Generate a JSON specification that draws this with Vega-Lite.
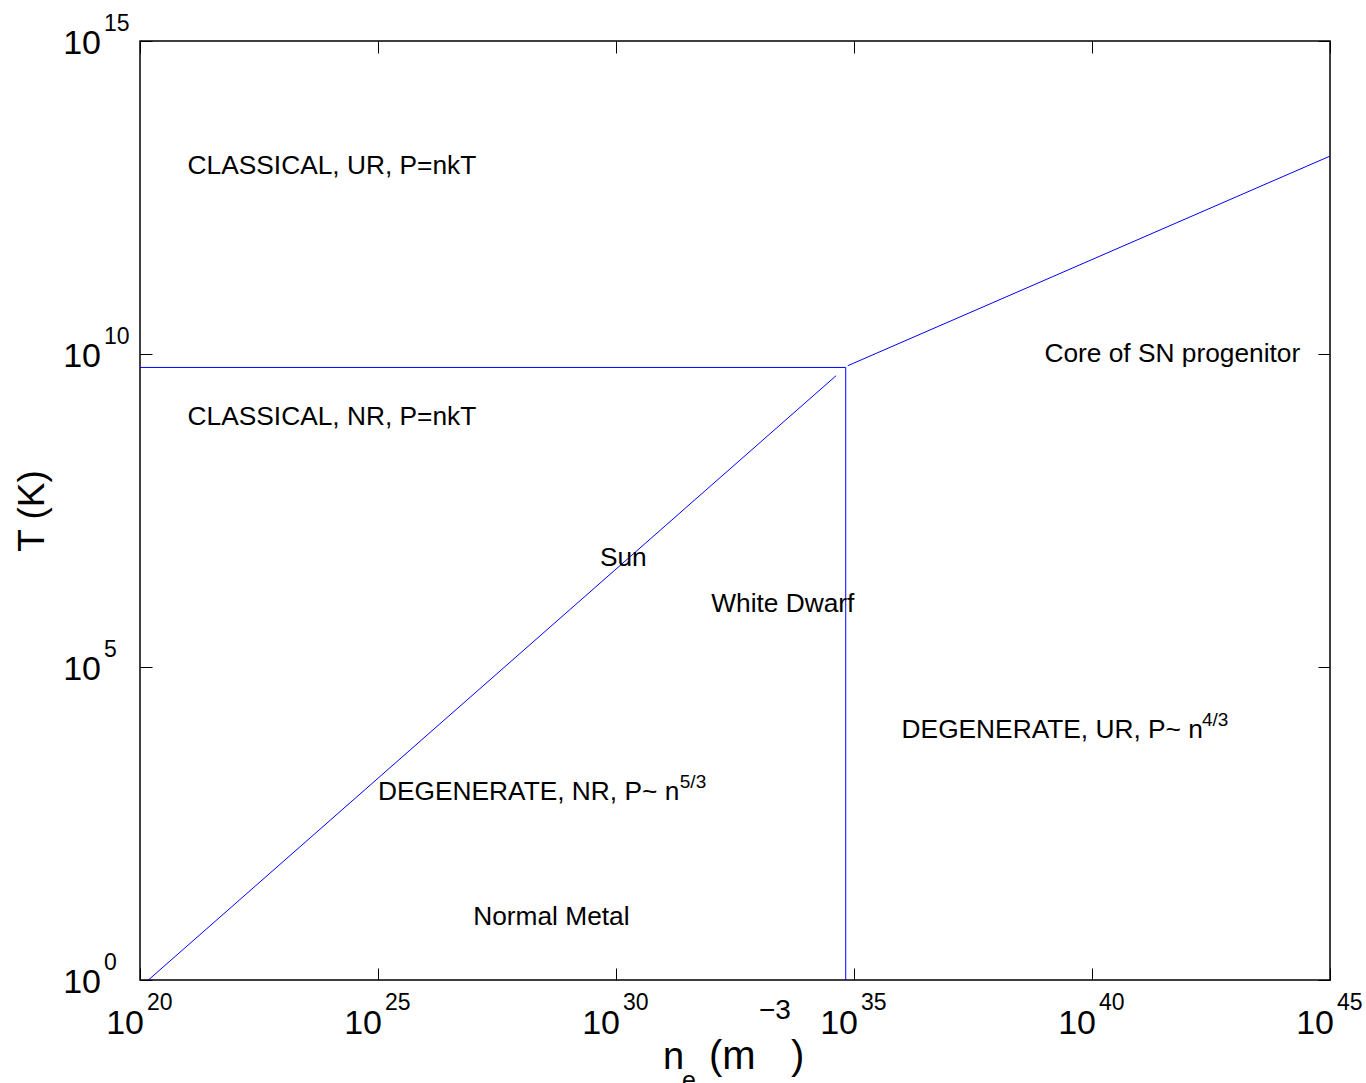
{
  "$schema": "https://vega.github.io/schema/vega-lite/v6.json",
  "width": 1190,
  "height": 939,
  "autosize": {"type": "none"},
  "padding": {"left": 140, "top": 41, "right": 36, "bottom": 103},
  "background": "white",
  "config": {
    "font": "Liberation Sans",
    "view": {"stroke": "black", "strokeWidth": 1.5},
    "text": {"font": "Liberation Sans", "color": "black"},
    "axis": {"labels": false, "grid": false, "domain": false, "ticks": true, "tickSize": -12, "tickColor": "black", "tickWidth": 1}
  },
  "datasets": {
    "lines": [
      {"seg": "NR/UR boundary", "n": 1e20, "T": 6.1e9, "i": 0},
      {"seg": "NR/UR boundary", "n": 6.7e34, "T": 6.1e9, "i": 1},
      {"seg": "NR/UR boundary", "n": 6.7e34, "T": 1, "i": 2},
      {"seg": "classical/degenerate NR", "n": 1.5e20, "T": 1, "i": 0},
      {"seg": "classical/degenerate NR", "n": 4.2e34, "T": 4.5e9, "i": 1}
    ],
    "urline": [
      {"seg": "classical/degenerate UR", "n": 7.4e34, "T": 6.5e9, "i": 0},
      {"seg": "classical/degenerate UR", "n": 1e45, "T": 1.45e13, "i": 1}
    ],
    "labels": [
      {"n": 1e21, "T": 1e13, "label": "CLASSICAL, UR, P=nkT"},
      {"n": 1e21, "T": 1e9, "label": "CLASSICAL, NR, P=nkT"},
      {"n": 1e39, "T": 1e10, "label": "Core of SN progenitor"},
      {"n": 4.6e29, "T": 5.6e6, "label": "Sun"},
      {"n": 1e32, "T": 1e6, "label": "White Dwarf"},
      {"n": 1e36, "T": 1e4, "label": "DEGENERATE, UR, P~ n"},
      {"n": 1e25, "T": 1e3, "label": "DEGENERATE, NR, P~ n"},
      {"n": 1e27, "T": 10, "label": "Normal Metal"}
    ],
    "sups": [
      {"n": 2.19e31, "T": 1e3, "sup": "5/3"},
      {"n": 2.04e42, "T": 1e4, "sup": "4/3"}
    ],
    "xticks": [
      {"n": 1e20, "e": "20"},
      {"n": 1e25, "e": "25"},
      {"n": 1e30, "e": "30"},
      {"n": 1e35, "e": "35"},
      {"n": 1e40, "e": "40"},
      {"n": 1e45, "e": "45"}
    ],
    "yticks": [
      {"T": 1, "e": "0"},
      {"T": 1e5, "e": "5"},
      {"T": 1e10, "e": "10"},
      {"T": 1e15, "e": "15"}
    ]
  },
  "layer": [
    {
      "data": {"name": "lines"},
      "mark": {"type": "line", "color": "#0000ff", "strokeWidth": 1},
      "encoding": {
        "x": {"field": "n", "type": "quantitative", "scale": {"type": "log", "domain": [1e20, 1e45], "nice": false},
              "axis": {"orient": "bottom", "values": [1e20, 1e25, 1e30, 1e35, 1e40, 1e45], "title": null}},
        "y": {"field": "T", "type": "quantitative", "scale": {"type": "log", "domain": [1, 1e15], "nice": false},
              "axis": {"orient": "left", "values": [1, 1e5, 1e10, 1e15], "title": "T (K)", "titleFont": "Liberation Sans", "titleFontSize": 37, "titleFontWeight": "normal", "titleColor": "black", "titleX": -97, "titleY": 469.5, "titleAngle": -90, "titleBaseline": "alphabetic", "titleAlign": "center"}},
        "detail": {"field": "seg"},
        "order": {"field": "i", "type": "quantitative"}
      }
    },
    {
      "data": {"name": "urline"},
      "mark": {"type": "line", "color": "#0000ff", "strokeWidth": 1},
      "encoding": {
        "x": {"field": "n", "type": "quantitative", "scale": {"type": "log", "domain": [1e20, 1e45], "nice": false},
              "axis": {"orient": "top", "values": [1e20, 1e25, 1e30, 1e35, 1e40, 1e45], "title": null}},
        "y": {"field": "T", "type": "quantitative", "scale": {"type": "log", "domain": [1, 1e15], "nice": false},
              "axis": {"orient": "right", "values": [1, 1e5, 1e10, 1e15], "title": null}},
        "detail": {"field": "seg"},
        "order": {"field": "i", "type": "quantitative"}
      }
    },
    {
      "data": {"name": "labels"},
      "mark": {"type": "text", "align": "left", "baseline": "middle", "fontSize": 26.3, "font": "Liberation Sans", "color": "black"},
      "encoding": {
        "x": {"field": "n", "type": "quantitative", "scale": {"type": "log", "domain": [1e20, 1e45], "nice": false}, "axis": null},
        "y": {"field": "T", "type": "quantitative", "scale": {"type": "log", "domain": [1, 1e15], "nice": false}, "axis": null},
        "text": {"field": "label"}
      }
    },
    {
      "data": {"name": "sups"},
      "mark": {"type": "text", "align": "left", "baseline": "alphabetic", "fontSize": 19, "dy": -4, "font": "Liberation Sans", "color": "black"},
      "encoding": {
        "x": {"field": "n", "type": "quantitative", "scale": {"type": "log", "domain": [1e20, 1e45], "nice": false}, "axis": null},
        "y": {"field": "T", "type": "quantitative", "scale": {"type": "log", "domain": [1, 1e15], "nice": false}, "axis": null},
        "text": {"field": "sup"}
      }
    },
    {
      "data": {"name": "xticks"},
      "mark": {"type": "text", "text": "10", "align": "right", "baseline": "alphabetic", "fontSize": 34, "dx": 4, "dy": 54, "font": "Liberation Sans", "color": "black"},
      "encoding": {
        "x": {"field": "n", "type": "quantitative", "scale": {"type": "log", "domain": [1e20, 1e45], "nice": false}, "axis": null},
        "y": {"datum": 1, "type": "quantitative", "scale": {"type": "log", "domain": [1, 1e15], "nice": false}, "axis": null}
      }
    },
    {
      "data": {"name": "xticks"},
      "mark": {"type": "text", "align": "left", "baseline": "alphabetic", "fontSize": 23, "dx": 7, "dy": 30, "font": "Liberation Sans", "color": "black"},
      "encoding": {
        "x": {"field": "n", "type": "quantitative", "scale": {"type": "log", "domain": [1e20, 1e45], "nice": false}, "axis": null},
        "y": {"datum": 1, "type": "quantitative", "scale": {"type": "log", "domain": [1, 1e15], "nice": false}, "axis": null},
        "text": {"field": "e"}
      }
    },
    {
      "data": {"name": "yticks"},
      "mark": {"type": "text", "text": "10", "align": "right", "baseline": "alphabetic", "fontSize": 34, "dx": -39, "dy": 13, "font": "Liberation Sans", "color": "black"},
      "encoding": {
        "x": {"datum": 1e20, "type": "quantitative", "scale": {"type": "log", "domain": [1e20, 1e45], "nice": false}, "axis": null},
        "y": {"field": "T", "type": "quantitative", "scale": {"type": "log", "domain": [1, 1e15], "nice": false}, "axis": null}
      }
    },
    {
      "data": {"name": "yticks"},
      "mark": {"type": "text", "align": "left", "baseline": "alphabetic", "fontSize": 23, "dx": -36, "dy": -10, "font": "Liberation Sans", "color": "black"},
      "encoding": {
        "x": {"datum": 1e20, "type": "quantitative", "scale": {"type": "log", "domain": [1e20, 1e45], "nice": false}, "axis": null},
        "y": {"field": "T", "type": "quantitative", "scale": {"type": "log", "domain": [1, 1e15], "nice": false}, "axis": null},
        "text": {"field": "e"}
      }
    },
    {
      "data": {"values": [{"part": "n"}]},
      "mark": {"type": "text", "align": "left", "baseline": "alphabetic", "fontSize": 38, "dx": -72, "dy": 89, "font": "Liberation Sans", "color": "black"},
      "encoding": {
        "x": {"datum": 3.162e32, "type": "quantitative", "scale": {"type": "log", "domain": [1e20, 1e45], "nice": false}, "axis": null},
        "y": {"datum": 1, "type": "quantitative", "scale": {"type": "log", "domain": [1, 1e15], "nice": false}, "axis": null},
        "text": {"field": "part"}
      }
    },
    {
      "data": {"values": [{"part": "e"}]},
      "mark": {"type": "text", "align": "left", "baseline": "alphabetic", "fontSize": 25, "dx": -53, "dy": 109, "font": "Liberation Sans", "color": "black"},
      "encoding": {
        "x": {"datum": 3.162e32, "type": "quantitative", "scale": {"type": "log", "domain": [1e20, 1e45], "nice": false}, "axis": null},
        "y": {"datum": 1, "type": "quantitative", "scale": {"type": "log", "domain": [1, 1e15], "nice": false}, "axis": null},
        "text": {"field": "part"}
      }
    },
    {
      "data": {"values": [{"part": "(m"}]},
      "mark": {"type": "text", "align": "left", "baseline": "alphabetic", "fontSize": 40, "dx": -26, "dy": 89, "font": "Liberation Sans", "color": "black"},
      "encoding": {
        "x": {"datum": 3.162e32, "type": "quantitative", "scale": {"type": "log", "domain": [1e20, 1e45], "nice": false}, "axis": null},
        "y": {"datum": 1, "type": "quantitative", "scale": {"type": "log", "domain": [1, 1e15], "nice": false}, "axis": null},
        "text": {"field": "part"}
      }
    },
    {
      "data": {"values": [{"part": "−3"}]},
      "mark": {"type": "text", "align": "left", "baseline": "alphabetic", "fontSize": 28, "dx": 24, "dy": 39, "font": "Liberation Sans", "color": "black"},
      "encoding": {
        "x": {"datum": 3.162e32, "type": "quantitative", "scale": {"type": "log", "domain": [1e20, 1e45], "nice": false}, "axis": null},
        "y": {"datum": 1, "type": "quantitative", "scale": {"type": "log", "domain": [1, 1e15], "nice": false}, "axis": null},
        "text": {"field": "part"}
      }
    },
    {
      "data": {"values": [{"part": ")"}]},
      "mark": {"type": "text", "align": "left", "baseline": "alphabetic", "fontSize": 40, "dx": 56, "dy": 89, "font": "Liberation Sans", "color": "black"},
      "encoding": {
        "x": {"datum": 3.162e32, "type": "quantitative", "scale": {"type": "log", "domain": [1e20, 1e45], "nice": false}, "axis": null},
        "y": {"datum": 1, "type": "quantitative", "scale": {"type": "log", "domain": [1, 1e15], "nice": false}, "axis": null},
        "text": {"field": "part"}
      }
    }
  ],
  "resolve": {"axis": {"x": "independent", "y": "independent"}}
}
